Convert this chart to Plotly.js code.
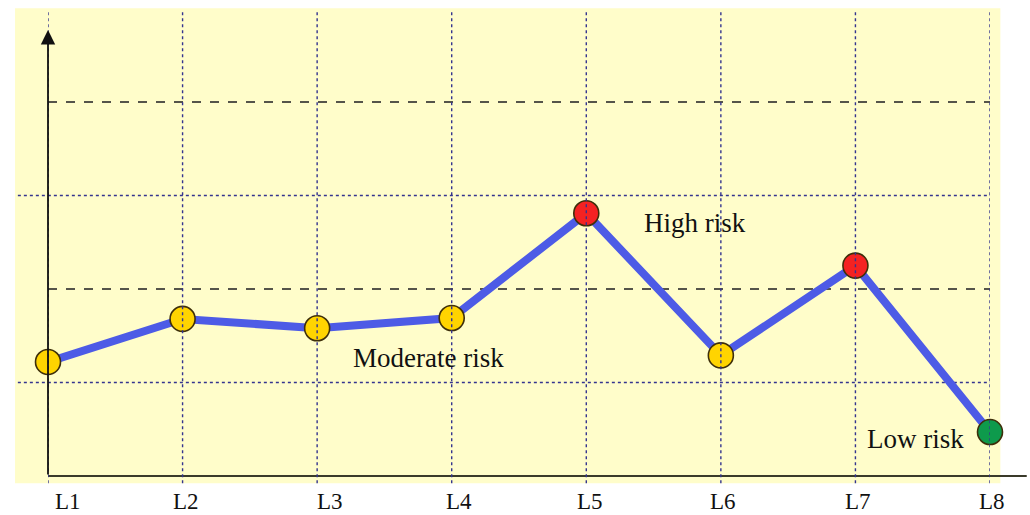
<!DOCTYPE html>
<html>
<head>
<meta charset="utf-8">
<script src="https://cdn.plot.ly/plotly-3.0.1.min.js"></script>
<style>html,body{margin:0;padding:0;background:#fff;}#chart{width:1030px;height:515px;}</style>
</head>
<body>
<div id="chart"></div>
<script>
// Data
const categories = ["L1","L2","L3","L4","L5","L6","L7","L8"];
const riskValues = [1.22, 1.68, 1.58, 1.69, 2.81, 1.29, 2.25, 0.47];
const riskLevels = ["moderate","moderate","moderate","moderate","high","moderate","high","low"];
const dottedLevels = [1, 3];
const dashedLevels = [2, 4];
const zoneLabels = ["High risk", "Moderate risk", "Low risk"];
const zoneLabelX = [4.81, 2.83, 6.45];
const zoneLabelY = [2.71, 1.26, 0.40];

// Style
const levelColor = {high:"#F42222", moderate:"#FFD400", low:"#0E9A4C"};
const tickShift = [20, 3, 13, 7, 4, 2, 3, 2];
const xIdx = categories.map((c, i) => i);
const yTop = 4.77;
const serif = "Liberation Serif, DejaVu Serif, serif";

const shapes = [];
// yellow panel
shapes.push({type:"rect", xref:"paper", yref:"paper", x0:-0.035, x1:1.011, y0:-0.016, y1:1.049,
  fillcolor:"#FFFDCA", line:{width:0}, layer:"below"});
// vertical dotted grid (drawn over the data, as in the reference)
xIdx.forEach(i => shapes.push({type:"line", xref:"x", yref:"paper", x0:i, x1:i, y0:-0.016, y1:1.045,
  line:{color:"#34348F", width:1.4, dash:"dot"}, layer:"above"}));
// horizontal dotted grid
dottedLevels.forEach(v => shapes.push({type:"line", xref:"paper", yref:"y", x0:-0.032, x1:1, y0:v, y1:v,
  line:{color:"#34348F", width:1.4, dash:"dot"}, layer:"below"}));
// horizontal dashed thresholds
dashedLevels.forEach(v => shapes.push({type:"line", xref:"paper", yref:"y", x0:0, x1:1, y0:v, y1:v,
  line:{color:"#55544A", width:2, dash:"dash"}, layer:"below"}));
// x axis line
shapes.push({type:"line", xref:"paper", yref:"paper", x0:0, x1:1.039, y0:0, y1:0,
  line:{color:"#3a3a2a", width:1.8}, layer:"below"});

const annotations = [];
// y axis with arrow
annotations.push({x:0, y:yTop, xref:"x", yref:"y", ax:0, ay:446, axref:"pixel", ayref:"pixel",
  showarrow:true, arrowhead:2, arrowsize:1.6, arrowwidth:1.8, arrowcolor:"#111", text:""});
zoneLabels.forEach((t, i) => annotations.push({x:zoneLabelX[i], y:zoneLabelY[i], xref:"x", yref:"y",
  text:t, showarrow:false, font:{family:serif, size:27, color:"#111"}}));
categories.forEach((c, i) => annotations.push({x:i, y:0, xref:"x", yref:"paper", yanchor:"top", yshift:-11,
  xshift:tickShift[i], text:c, showarrow:false, font:{family:serif, size:23, color:"#111"}}));

const traces = [
  {x:xIdx, y:riskValues, type:"scatter", mode:"lines", line:{color:"#4D5BE6", width:8},
   hoverinfo:"skip", cliponaxis:false},
  {x:xIdx, y:riskValues, type:"scatter", mode:"markers", cliponaxis:false,
   marker:{size:25, color:riskLevels.map(l => levelColor[l]), line:{color:"#3e2f0a", width:1.6}}}
];

const layout = {
  width:1030, height:515,
  margin:{l:48, r:40, t:30, b:39},
  paper_bgcolor:"#ffffff", plot_bgcolor:"rgba(0,0,0,0)",
  showlegend:false,
  xaxis:{range:[0,7], showgrid:false, zeroline:false, showticklabels:false, ticks:"", showline:false, fixedrange:true},
  yaxis:{range:[0,yTop], showgrid:false, zeroline:false, showticklabels:false, ticks:"", showline:false, fixedrange:true},
  shapes:shapes, annotations:annotations
};
Plotly.newPlot("chart", traces, layout, {displayModeBar:false, staticPlot:true});
</script>
</body>
</html>
